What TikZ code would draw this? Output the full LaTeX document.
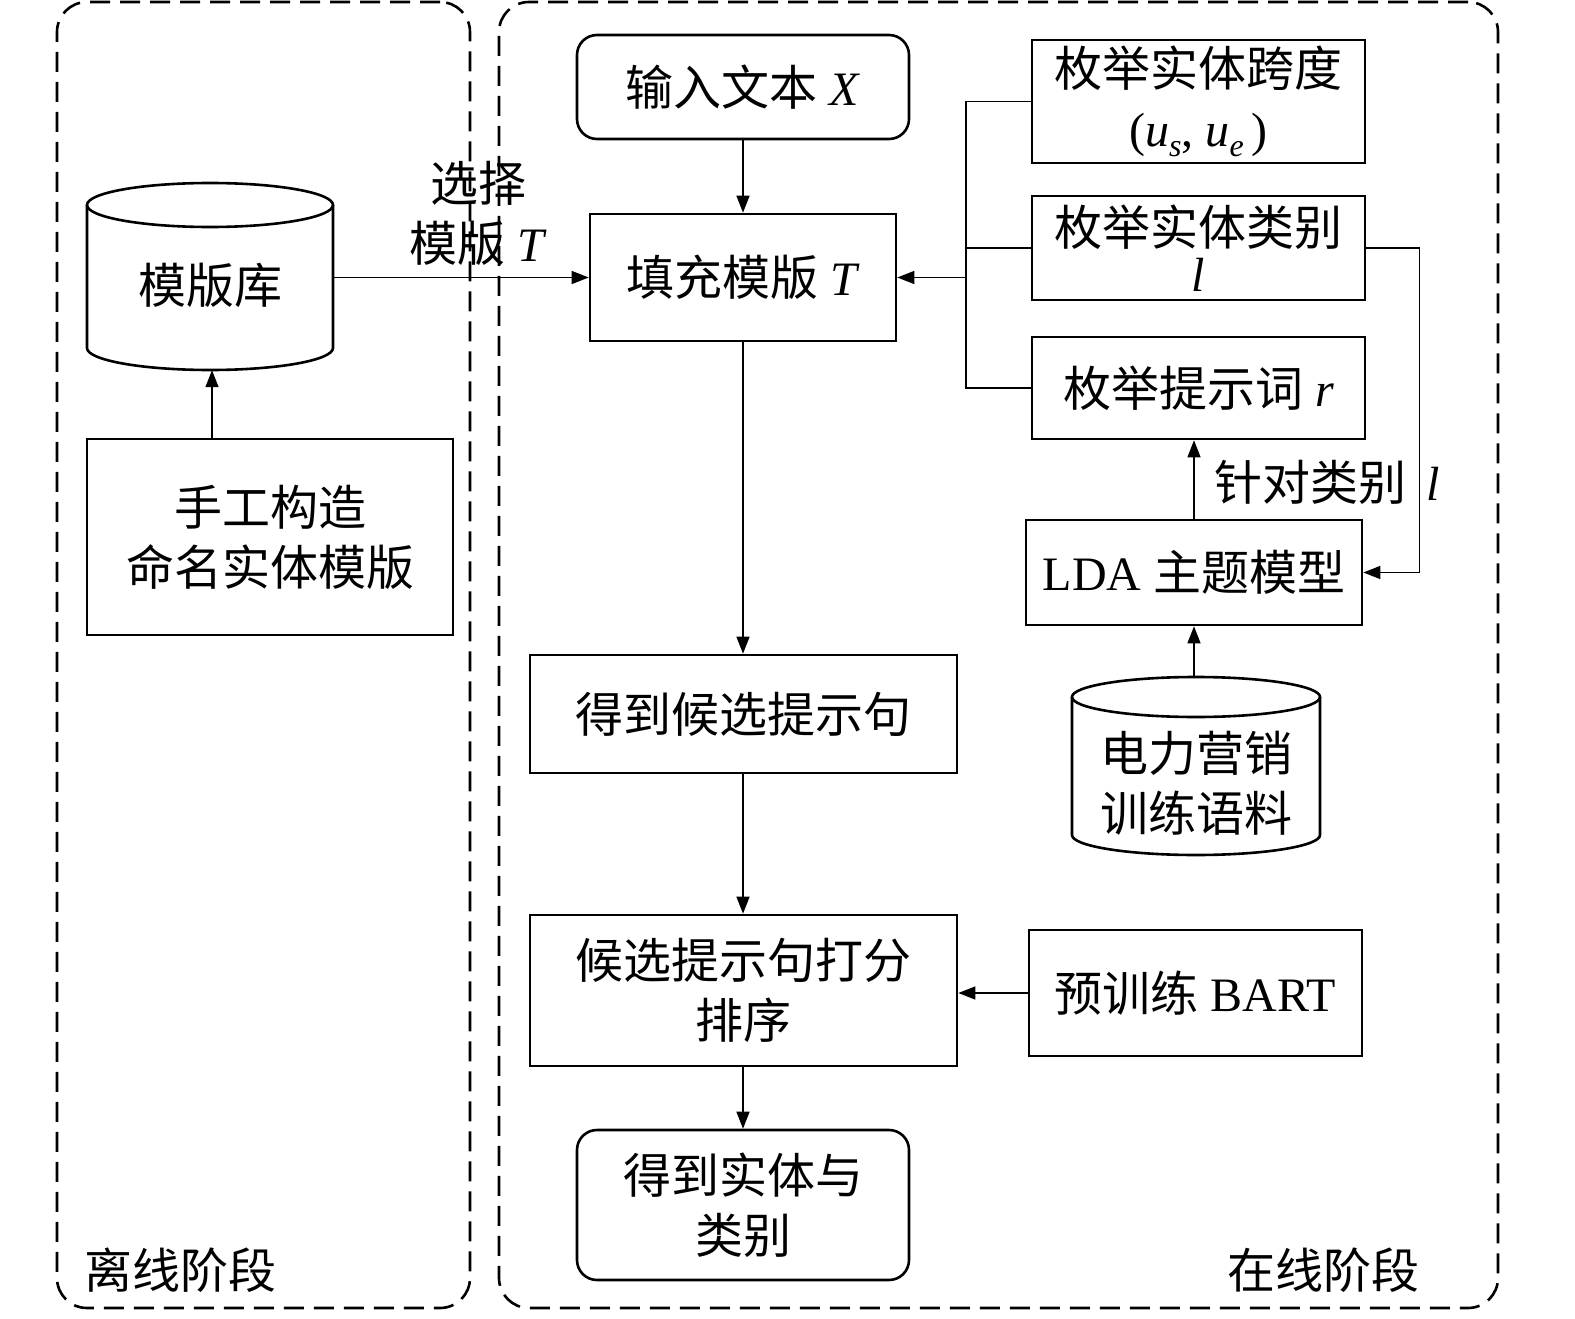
\documentclass[tikz,border=0pt]{standalone}
\usepackage{fontspec}
\setmainfont{Liberation Serif}
\newfontfamily\cjk{Noto Sans CJK SC}
\usetikzlibrary{arrows.meta}
\newcommand\mysub[1]{\raisebox{-0.22em}{\fontsize{32}{32}\selectfont\textit{#1}}}
\begin{document}
\begin{tikzpicture}[x=1pt,y=-1pt,
  txt/.style={font=\fontsize{48}{60}\selectfont, align=center, inner sep=0pt},
  box/.style={txt, draw, line width=2.6pt},
  rbox/.style={box, rounded corners=20pt},
  conn/.style={line width=1.3pt},
  arr/.style={conn, -{Triangle[length=17pt,width=13pt]}},
  region/.style={draw, line width=2.6pt, dash pattern=on 20pt off 10pt, rounded corners=30pt, inner sep=0pt},
  cyl/.style={line width=2.6pt},
]
\useasboundingbox (0,0) rectangle (1575,1319);
% regions
\node[region, minimum width=413pt, minimum height=1306pt] (offline) at (263.5,655) {};
\node[region, minimum width=999pt, minimum height=1306pt] (online) at (998.5,655) {};
\node[txt, anchor=center] (offlbl) at (180,1270) {\cjk 离线阶段};
\node[txt, anchor=center] (onlbl) at (1323,1270) {\cjk 在线阶段};

% template library cylinder
\draw[cyl] (210,205) ellipse [x radius=123, y radius=22];
\draw[cyl] (87,205) -- (87,348) arc[start angle=180, end angle=0, x radius=123, y radius=22] -- (333,205);
\node[txt, minimum width=246pt, minimum height=170pt] (lib) at (210,285) {\cjk 模版库};

\node[box, minimum width=366pt, minimum height=196pt] (manual) at (270,537) {\cjk 手工构造\\\cjk 命名实体模版};

% main column
\node[rbox, minimum width=332pt, minimum height=104pt] (input) at (743,87) {{\cjk 输入文本} \textit{X}};
\node[box, minimum width=306pt, minimum height=127pt] (fill) at (743,277.5) {{\cjk 填充模版} \textit{T}};
\node[box, minimum width=427pt, minimum height=118pt] (cand) at (743.5,714) {\cjk 得到候选提示句};
\node[box, minimum width=427pt, minimum height=151pt] (score) at (743.5,990.5) {\cjk 候选提示句打分\\\cjk 排序};
\node[rbox, minimum width=332pt, minimum height=150pt] (result) at (743,1205) {\cjk 得到实体与\\\cjk 类别};

% right column
\node[box, minimum width=333pt, minimum height=123pt] (span) at (1198.5,101.5) {\cjk 枚举实体跨度\\(\textit{u}\mysub{s}, \textit{u}\mysub{e}\,)};
\node[box, minimum width=333pt, minimum height=104pt] (cat) at (1198.5,248) {\cjk 枚举实体类别\\[-14pt]\textit{l}};
\node[box, minimum width=333pt, minimum height=102pt] (prompt) at (1198.5,388) {{\cjk 枚举提示词} \textit{r}};
\node[box, minimum width=336pt, minimum height=105pt] (lda) at (1194,572.5) {LDA {\cjk 主题模型}};
\node[box, minimum width=333pt, minimum height=126pt] (bart) at (1195.5,993) {{\cjk 预训练} BART};

% corpus cylinder
\draw[cyl] (1196,697) ellipse [x radius=124, y radius=20];
\draw[cyl] (1072,697) -- (1072,835) arc[start angle=180, end angle=0, x radius=124, y radius=20] -- (1320,697);
\node[txt, minimum width=248pt, minimum height=143pt] (corpus) at (1196,783.5) {\cjk 电力营销\\\cjk 训练语料};
\coordinate (corpustop) at (1196,677);

% labels
\node[txt] (sel) at (478,213) {\cjk 选择\\{\cjk 模版} \textit{T}};
\node[txt] (forcat) at (1327,482) {{\cjk 针对类别}\hspace{20pt}\textit{l}};

% connectors
\draw[arr] (manual.north -| 212,0) -- (lib.south -| 212,0);
\draw[arr] (lib.east |- fill.west) -- (fill.west);
\draw[arr] (input.south) -- (fill.north);
\draw[arr] (fill.south) -- (cand.north -| fill.south);
\draw[arr] (cand.south -| fill.south) -- (score.north -| fill.south);
\draw[arr] (score.south -| fill.south) -- (result.north);

\coordinate (bus) at (966,277.5);
\draw[conn] (span.west) -- (span.west -| bus) -- (prompt.west -| bus) -- (prompt.west);
\draw[conn] (cat.west) -- (cat.west -| bus);
\draw[arr] (bus) -- (fill.east);

\draw[arr] (cat.east) -- ++(53,0) |- (lda.east);
\draw[arr] (lda.north) -- (lda.north |- prompt.south);
\draw[arr] (corpustop -| lda.south) -- (lda.south);
\draw[arr] (bart.west) -- (bart.west -| score.east);
\end{tikzpicture}
\end{document}
